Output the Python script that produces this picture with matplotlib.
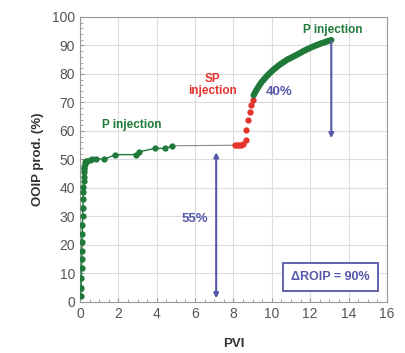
import numpy as np
import matplotlib.pyplot as plt
from matplotlib.ticker import MultipleLocator

plt.rcParams['font.family'] = ['Liberation Sans', 'DejaVu Sans']

# first polymer injection
p1_x = [0.05, 0.06, 0.07, 0.08, 0.09, 0.10, 0.11, 0.12, 0.13, 0.14, 0.15, 0.16,
        0.17, 0.18, 0.19, 0.20, 0.21, 0.22, 0.23, 0.25, 0.28, 0.32, 0.38,
        0.50, 0.65, 0.85, 1.25, 1.85, 2.9, 3.1, 3.9, 4.45, 4.8]
p1_y = [2.0, 5.0, 8.5, 12.0, 15.0, 18.0, 21.0, 24.0, 27.0, 30.0, 33.0, 36.0,
        38.5, 40.5, 42.5, 44.0, 45.5, 46.5, 47.5, 48.3, 49.0, 49.3, 49.5,
        49.7, 50.0, 50.3, 50.0, 51.7, 51.7, 52.7, 53.9, 53.9, 54.7]

# SP injection
sp_x = [8.1, 8.2, 8.3, 8.4, 8.5, 8.63, 8.68, 8.77, 8.85, 8.94, 9.0]
sp_y = [55.0, 55.1, 55.1, 55.2, 55.5, 57.0, 60.3, 63.9, 66.8, 69.1, 71.0]

# second polymer injection
p2_x = [9.05, 9.2, 9.45, 9.72, 10.0, 10.4, 10.8, 11.3, 11.7, 12.15, 12.6, 13.1]
p2_y = [72.5, 74.4, 77.0, 79.1, 81.0, 83.2, 85.0, 86.7, 88.2, 89.6, 90.8, 91.9]

# plateau between injections
gap_x = [4.8, 8.1]
gap_y = [54.8, 55.0]

green = '#1f7a3a'
red = '#e5322b'
blue = '#5558a8'

fig = plt.figure(figsize=(4.06, 3.53), dpi=100)
ax = fig.add_axes([0.197, 0.1445, 0.756, 0.8075])

ax.plot(gap_x, gap_y, color='#888888', lw=0.8, zorder=2)
ax.plot(p1_x, p1_y, color=green, lw=1, marker='o', ms=3.5, zorder=3)
ax.plot(sp_x, sp_y, color=red, lw=0, marker='o', ms=3.5, zorder=3)
ax.plot(p2_x, p2_y, color=green, lw=4.5, solid_capstyle='round', zorder=3)

# arrows
ax.annotate('', xy=(7.1, 0.3), xytext=(7.1, 53.5),
            arrowprops=dict(arrowstyle='<|-|>', color=blue, lw=1.5, mutation_scale=7))
ax.annotate('', xy=(13.1, 56.5), xytext=(13.1, 92.5),
            arrowprops=dict(arrowstyle='-|>', color=blue, lw=1.5, mutation_scale=7))

ax.text(2.7, 62, 'P injection', color=green, fontsize=8.5, fontweight='bold', ha='center', va='center')
ax.text(6.9, 76, 'SP\ninjection', color=red, fontsize=8.5, fontweight='bold', ha='center', va='center',
        linespacing=1.0)
ax.text(13.2, 95.5, 'P injection', color=green, fontsize=8.5, fontweight='bold', ha='center', va='center')
ax.text(10.4, 73.5, '40%', color=blue, fontsize=9.5, fontweight='bold', ha='center', va='center')
ax.text(6.0, 29, '55%', color=blue, fontsize=9.5, fontweight='bold', ha='center', va='center')
ax.text(13.05, 8.8, '\u0394ROIP = 90%', color=blue, fontsize=9, fontweight='bold', ha='center', va='center',
        bbox=dict(boxstyle='square,pad=0.65', fc='white', ec=blue, lw=1.3))

ax.set_xlim(0, 16)
ax.set_ylim(0, 100)
ax.xaxis.set_major_locator(MultipleLocator(2))
ax.xaxis.set_minor_locator(MultipleLocator(0.5))
ax.yaxis.set_major_locator(MultipleLocator(10))
ax.yaxis.set_minor_locator(MultipleLocator(2))
ax.grid(True, which='major', color='#dcdcdc', lw=0.8)
ax.set_axisbelow(True)
ax.tick_params(which='both', direction='in', colors='#999999', labelcolor='#555555', labelsize=10)
ax.tick_params(which='major', length=3)
ax.tick_params(which='minor', length=2)
for s in ax.spines.values():
    s.set_color('#999999')
ax.set_xlabel('PVI', fontsize=9.5, fontweight='bold', color='#333333', labelpad=12)
ax.set_ylabel('OOIP prod. (%)', fontsize=9.5, fontweight='bold', color='#333333', labelpad=6)

fig.savefig('out.png', dpi=100)
